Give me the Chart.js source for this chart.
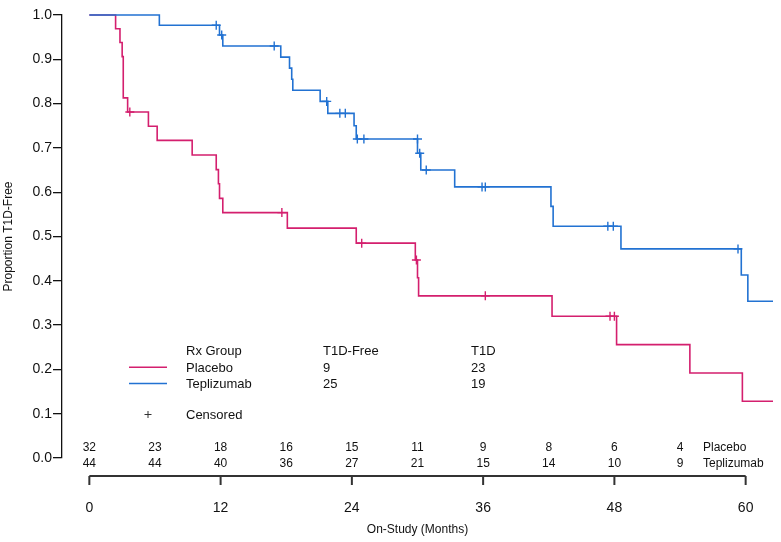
<!DOCTYPE html>
<html>
<head>
<meta charset="utf-8">
<script src="https://cdn.jsdelivr.net/npm/chart.js@4.4.0/dist/chart.umd.min.js"></script>
<style>
  body { margin: 0; background: #fff; }
  canvas { display: block; }
</style>
</head>
<body>
<canvas id="kmChart" width="781" height="542"></canvas>
<script>
// Kaplan-Meier curves (months, proportion T1D-free)
const placeboTimes = [0, 2.4, 2.8, 3.0, 3.1, 3.5, 5.4, 6.2, 9.4, 11.6, 11.8, 11.9, 12.2, 18.1, 24.4, 29.8, 30.0, 30.1, 42.3, 48.2, 54.9, 59.7, 62.5];
const placeboSurv  = [1, 0.969, 0.938, 0.906, 0.813, 0.781, 0.749, 0.717, 0.684, 0.651, 0.619, 0.586, 0.554, 0.519, 0.485, 0.447, 0.407, 0.366, 0.320, 0.256, 0.192, 0.128, 0.128];
const placeboCensorTimes = [3.7, 17.6, 24.9, 29.9, 36.2, 47.6, 48.0];
const placeboCensorSurv  = [0.781, 0.554, 0.485, 0.447, 0.366, 0.320, 0.320];

const teplizTimes = [0, 6.4, 11.9, 12.2, 17.5, 18.3, 18.5, 18.6, 21.1, 21.8, 24.2, 24.4, 30.0, 30.3, 33.4, 42.2, 42.4, 48.6, 59.6, 60.2, 62.5];
const teplizSurv  = [1, 0.977, 0.955, 0.930, 0.905, 0.880, 0.855, 0.830, 0.805, 0.778, 0.750, 0.720, 0.688, 0.650, 0.612, 0.568, 0.523, 0.472, 0.413, 0.354, 0.354];
const teplizCensorTimes = [11.6, 12.1, 16.9, 21.7, 22.9, 23.4, 24.5, 25.1, 30.0, 30.2, 30.8, 35.9, 36.2, 47.4, 47.9, 59.3];
const teplizCensorSurv  = [0.977, 0.955, 0.930, 0.805, 0.778, 0.778, 0.720, 0.720, 0.720, 0.688, 0.650, 0.612, 0.612, 0.523, 0.523, 0.472];

// number at risk table
const riskTimes   = [0, 6, 12, 18, 24, 30, 36, 42, 48, 54];
const placeboRisk = [32, 23, 18, 16, 15, 11, 9, 8, 6, 4];
const teplizRisk  = [44, 44, 40, 36, 27, 21, 15, 14, 10, 9];

// legend table
const groups      = ['Placebo', 'Teplizumab'];
const t1dFree     = [9, 25];
const t1dCount    = [23, 19];

const xTicks = [0, 12, 24, 36, 48, 60];

const PINK = '#D41F6E';
const BLUE = '#2272D2';
const FONT = "'Liberation Sans', Arial, sans-serif";

const pts = (xs, ys) => xs.map((x, i) => ({ x: x, y: ys[i] }));

// R-style x axis, risk table and legend
const extrasPlugin = {
  id: 'extras',
  afterDraw(chart) {
    const ctx = chart.ctx;
    const xs = chart.scales.x;
    const px = v => xs.getPixelForValue(v);
    ctx.save();

    // x axis
    const axY = 476;
    ctx.strokeStyle = '#333';
    ctx.lineWidth = 2;
    ctx.beginPath();
    ctx.moveTo(px(0), axY);
    ctx.lineTo(px(60), axY);
    xTicks.forEach(t => {
      ctx.moveTo(px(t), axY);
      ctx.lineTo(px(t), axY + 9);
    });
    ctx.stroke();

    ctx.fillStyle = '#111';
    ctx.textAlign = 'center';
    ctx.textBaseline = 'alphabetic';
    ctx.font = '14px ' + FONT;
    xTicks.forEach(t => ctx.fillText(String(t), px(t), 512));
    ctx.font = '12px ' + FONT;
    ctx.fillText('On-Study (Months)', px(30), 533);

    // number at risk
    ctx.font = '12px ' + FONT;
    riskTimes.forEach((t, i) => {
      ctx.fillText(String(placeboRisk[i]), px(t), 451);
      ctx.fillText(String(teplizRisk[i]), px(t), 467);
    });
    ctx.textAlign = 'left';
    ctx.fillText(groups[0], 703, 451);
    ctx.fillText(groups[1], 703, 467);

    // legend
    ctx.font = '13px ' + FONT;
    ctx.fillText('Rx Group', 186, 355);
    ctx.fillText('T1D-Free', 323, 355);
    ctx.fillText('T1D', 471, 355);
    const rowY = [371.5, 388];
    const lineY = [367.3, 383.5];
    const cols = [PINK, BLUE];
    groups.forEach((g, i) => {
      ctx.fillStyle = '#111';
      ctx.fillText(g, 186, rowY[i]);
      ctx.fillText(String(t1dFree[i]), 323, rowY[i]);
      ctx.fillText(String(t1dCount[i]), 471, rowY[i]);
      ctx.strokeStyle = cols[i];
      ctx.lineWidth = 1.6;
      ctx.beginPath();
      ctx.moveTo(129, lineY[i]);
      ctx.lineTo(167, lineY[i]);
      ctx.stroke();
    });
    ctx.fillText('Censored', 186, 419);
    ctx.strokeStyle = '#333';
    ctx.lineWidth = 1;
    ctx.beginPath();
    ctx.moveTo(144.5, 414.5);
    ctx.lineTo(151.5, 414.5);
    ctx.moveTo(148, 411);
    ctx.lineTo(148, 418);
    ctx.stroke();

    ctx.restore();
  }
};

new Chart(document.getElementById('kmChart'), {
  type: 'scatter',
  data: {
    datasets: [
      {
        label: 'Teplizumab',
        data: pts(teplizTimes, teplizSurv),
        showLine: true,
        stepped: true,
        borderColor: BLUE,
        borderWidth: 1.6,
        pointRadius: 0,
        clip: 4
      },
      {
        label: 'Teplizumab censored',
        data: pts(teplizCensorTimes, teplizCensorSurv),
        showLine: false,
        pointStyle: 'cross',
        pointRadius: 4.5,
        borderColor: BLUE,
        borderWidth: 1.4,
        clip: 4
      },
      {
        label: 'Placebo',
        data: pts(placeboTimes, placeboSurv),
        showLine: true,
        stepped: true,
        borderColor: PINK,
        borderWidth: 1.6,
        pointRadius: 0,
        clip: 4
      },
      {
        label: 'Placebo censored',
        data: pts(placeboCensorTimes, placeboCensorSurv),
        showLine: false,
        pointStyle: 'cross',
        pointRadius: 4.5,
        borderColor: PINK,
        borderWidth: 1.4,
        clip: 4
      }
    ]
  },
  options: {
    responsive: false,
    animation: false,
    layout: { padding: { left: 0, top: 15, right: 8, bottom: 84 } },
    plugins: {
      legend: { display: false },
      tooltip: { enabled: false }
    },
    scales: {
      x: {
        type: 'linear',
        min: -2.5,
        max: 62.5,
        display: false
      },
      y: {
        min: 0,
        max: 1,
        afterFit(scale) { scale.width = 62; },
        border: { display: true, color: '#111', width: 1.3 },
        grid: { drawOnChartArea: false, drawTicks: true, tickLength: 9, color: '#111', lineWidth: 1.3 },
        ticks: {
          stepSize: 0.1,
          padding: 1,
          color: '#111',
          font: { family: FONT, size: 14 },
          callback: v => v.toFixed(1)
        },
        title: {
          display: true,
          text: 'Proportion T1D-Free',
          color: '#111',
          padding: 1,
          font: { family: FONT, size: 12 }
        }
      }
    }
  },
  plugins: [extrasPlugin]
});
</script>
</body>
</html>
